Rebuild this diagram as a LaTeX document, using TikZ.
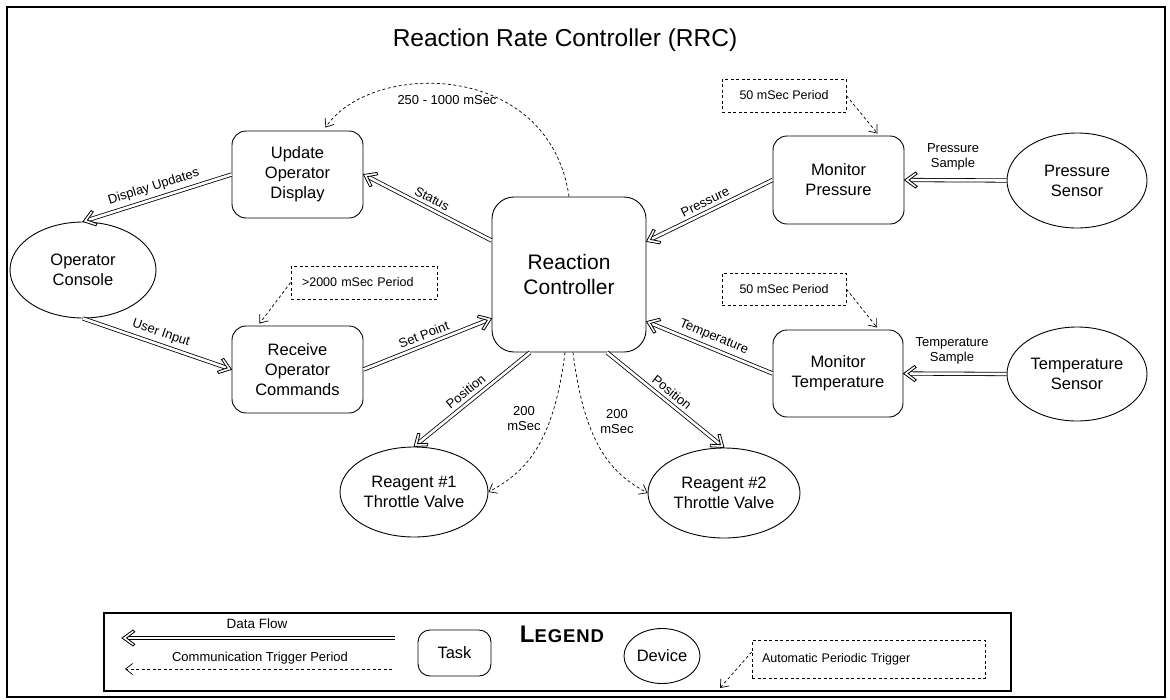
\documentclass[tikz,border=0pt]{standalone}
\usepackage{fontspec}
\setmainfont{Liberation Sans}
\usetikzlibrary{arrows.meta,calc,shapes.geometric,decorations.markings}
\newcommand\fsz[2]{\fontsize{#1}{#2}\selectfont}

\begin{document}
\begin{tikzpicture}[x=1pt,y=-1pt,
  every node/.style={font=\fsz{16.5}{20}, align=center, inner sep=0pt},
  taskbox/.style={draw, line width=0.9pt, rounded corners=14pt},
  device/.style={draw, line width=0.9pt, ellipse},
  periodbox/.style={draw, dashed, dash pattern=on 3pt off 2.5pt, line width=0.7pt, font=\fsz{12.5}{15}},
  % double data-flow line ending in a hollow chevron head
  flow/.style={double, double distance=2.6pt, line width=0.8pt, shorten >=6pt,
    postaction={decorate},
    decoration={markings, mark=at position 1 with {
      \draw[line width=0.8pt, fill=white, double=none, line join=miter]
        (0pt,0pt) -- (-11pt,8pt) -- (-12.8pt,6.2pt) -- (-4.6pt,0pt)
        -- (-12.8pt,-6.2pt) -- (-11pt,-8pt) -- cycle;}}},
  trig/.style={dash pattern=on 3pt off 2.5pt, line width=0.7pt, -{Straight Barb[length=7pt,width=11pt]}},
  lbl/.style={font=\fsz{13}{15}},
]
\useasboundingbox (0,0) rectangle (1170,699);
% outer frame
\draw[line width=1.4pt] (7,7) rectangle (1165,697);

% title
\node[font=\fsz{24.5}{28}] (title) at (565,40) {Reaction Rate Controller (RRC)};

% tasks
\node[taskbox, minimum width=131pt, minimum height=87pt] (uod) at (297.5,174.5) {Update\\Operator\\Display};
\node[taskbox, minimum width=131pt, minimum height=87pt] (roc) at (297.5,369.5) {Receive\\Operator\\Commands};
\node[taskbox, rounded corners=22pt, minimum width=154pt, minimum height=155pt, font=\fsz{21}{25}] (rc) at (569,274.5) {Reaction\\Controller};
\node[taskbox, minimum width=131pt, minimum height=88pt] (mp) at (838.5,180) {Monitor\\Pressure};
\node[taskbox, minimum width=130pt, minimum height=87pt] (mt) at (838,373.5) {Monitor\\Temperature};

% devices
\node[device, minimum width=146pt, minimum height=96pt] (oc) at (83,270) {Operator\\Console};
\node[device, minimum width=140pt, minimum height=95pt] (ps) at (1077,180.5) {Pressure\\Sensor};
\node[device, minimum width=140pt, minimum height=94pt] (ts) at (1077,374) {Temperature\\Sensor};
\node[device, minimum width=148pt, minimum height=90pt] (r1) at (414,492) {Reagent \#1\\Throttle Valve};
\node[device, minimum width=152pt, minimum height=90pt] (r2) at (724,493) {Reagent \#2\\Throttle Valve};

% period boxes
\node[periodbox, minimum width=124pt, minimum height=33pt] (p50) at (784,95.5) {50 mSec Period};
\node[periodbox, minimum width=124pt, minimum height=32pt] (t50) at (784,289) {50 mSec Period};
\node[periodbox, minimum width=146pt, minimum height=33pt, text width=124pt, align=left] (p2000) at (364,282.5) {>2000 mSec Period};

% data flows
\draw[flow] (uod.west) -- node[lbl, sloped, above=5pt] {Display Updates} (oc.north);
\draw[flow] ($(rc.west)+(0,-34)$) -- node[lbl, sloped, above=5pt] {Status} (uod.east);
\draw[flow] (mp.west) -- node[lbl, sloped, above=5pt] {Pressure} ($(rc.east)+(0,-33)$);
\draw[flow] (ps.west) -- (mp.east);
\node[lbl] (pslbl) at (953,157) {Pressure\\Sample};
\draw[flow] (oc.south) -- node[lbl, sloped, above=5pt] {User Input} (roc.west);
\draw[flow] (roc.east) -- node[lbl, sloped, above=5pt] {Set Point} ($(rc.west)+(0,44)$);
\draw[flow] (mt.west) -- node[lbl, sloped, above=5pt] {Temperature} ($(rc.east)+(0,47)$);
\draw[flow] (ts.west) -- (mt.east);
\node[lbl] (tslbl) at (952,351) {Temperature\\Sample};
\draw[flow] ($(rc.south)+(-39,0)$) -- node[lbl, sloped, above=5pt] {Position} (r1.north);
\draw[flow] ($(rc.south)+(38,0)$) -- node[lbl, sloped, above=5pt] {Position} (r2.north);

% trigger periods
\draw[trig] (rc.north) .. controls +(-20,-137) and +(45,-67) .. ($(uod.north)+(28,-3)$);
\node[lbl] (t250) at (447,100) {250 - 1000 mSec};
\draw[trig] ($(rc.south)+(-4,0)$) .. controls +(-12,97) and +(33,-18) .. (r1.east);
\node[lbl] (t200a) at (524,419) {200\\mSec};
\draw[trig] ($(rc.south)+(4,0)$) .. controls +(12,97) and +(-33,-18) .. (r2.west);
\node[lbl] (t200b) at (617,422) {200\\mSec};
\draw[trig] (p50.east) -- ($(mp.north)+(39,-2)$);
\draw[trig] (t50.east) -- ($(mt.north)+(39,-2)$);
\draw[trig] (p2000.west) -- ($(roc.north)+(-38,-2)$);

% legend
\draw[line width=1.2pt] (104,613) rectangle (1011,691);
\coordinate (dfs) at (395,638);
\coordinate (dfe) at (122,638);
\draw[flow] (dfs) -- (dfe);
\node[font=\fsz{13.5}{16}] (dflbl) at (257,624) {Data Flow};
\coordinate (cts) at (392,669);
\coordinate (cte) at (125,669);
\draw[trig] (cts) -- (cte);
\node[lbl] (ctlbl) at (260,658) {Communication Trigger Period};
\node[taskbox, rounded corners=12pt, minimum width=73pt, minimum height=46pt] (task) at (454.5,653) {Task};
\node[font=\bfseries] (legend) at (562,634) {{\fsz{24}{26}L}{\fsz{18.5}{20}\addfontfeature{LetterSpace=5}EGEND}};
\node[device, minimum width=76pt, minimum height=55pt] (dev) at (662,656) {Device};
\node[periodbox, minimum width=233pt, minimum height=38pt, text width=213pt, align=left] (apt) at (868.5,659) {Automatic Periodic Trigger};
\coordinate (aptend) at (720,688);
\draw[trig] ($(apt.west)+(0,-7)$) -- (aptend);
\end{tikzpicture}
\end{document}
